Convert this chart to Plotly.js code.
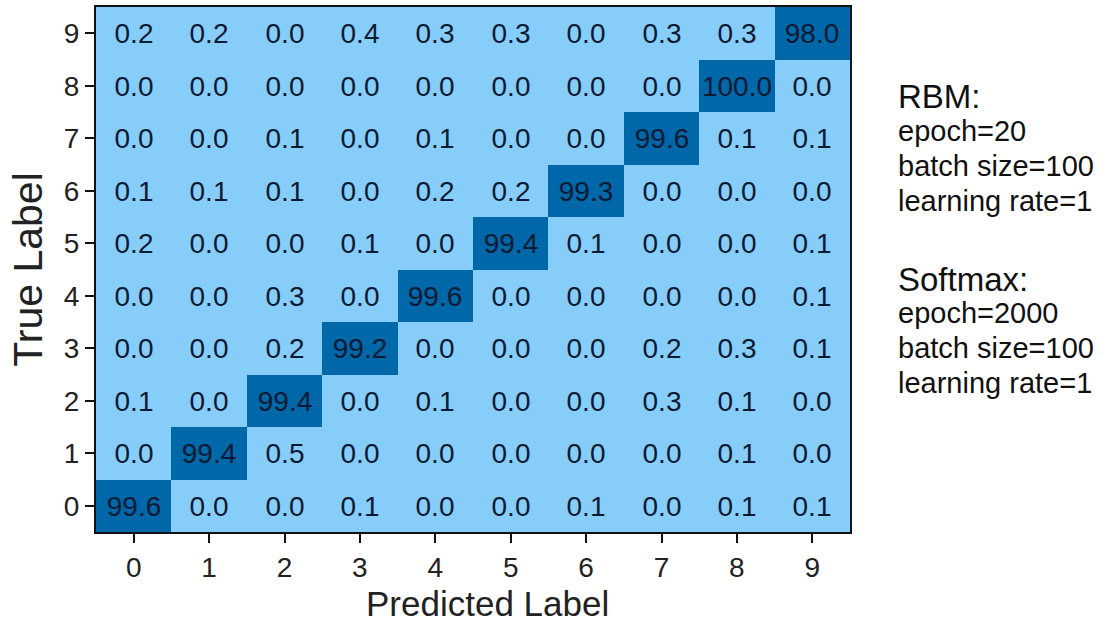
<!DOCTYPE html>
<html><head><meta charset="utf-8">
<script src="https://cdn.plot.ly/plotly-3.0.1.min.js"></script>
<style>body{margin:0;background:#fff}#c{width:1106px;height:625px}</style>
</head><body><div id="c"></div>
<script>
const predictedLabels = ['0','1','2','3','4','5','6','7','8','9'];
const trueLabels = ['0','1','2','3','4','5','6','7','8','9'];
// rows = true label 0..9, columns = predicted label 0..9 (percent)
const row0 = [99.6, 0.0, 0.0, 0.1, 0.0, 0.0, 0.1, 0.0, 0.1, 0.1];
const row1 = [0.0, 99.4, 0.5, 0.0, 0.0, 0.0, 0.0, 0.0, 0.1, 0.0];
const row2 = [0.1, 0.0, 99.4, 0.0, 0.1, 0.0, 0.0, 0.3, 0.1, 0.0];
const row3 = [0.0, 0.0, 0.2, 99.2, 0.0, 0.0, 0.0, 0.2, 0.3, 0.1];
const row4 = [0.0, 0.0, 0.3, 0.0, 99.6, 0.0, 0.0, 0.0, 0.0, 0.1];
const row5 = [0.2, 0.0, 0.0, 0.1, 0.0, 99.4, 0.1, 0.0, 0.0, 0.1];
const row6 = [0.1, 0.1, 0.1, 0.0, 0.2, 0.2, 99.3, 0.0, 0.0, 0.0];
const row7 = [0.0, 0.0, 0.1, 0.0, 0.1, 0.0, 0.0, 99.6, 0.1, 0.1];
const row8 = [0.0, 0.0, 0.0, 0.0, 0.0, 0.0, 0.0, 0.0, 100.0, 0.0];
const row9 = [0.2, 0.2, 0.0, 0.4, 0.3, 0.3, 0.0, 0.3, 0.3, 98.0];
const matrix = [row0,row1,row2,row3,row4,row5,row6,row7,row8,row9];
const noteLines = ['RBM:', 'epoch=20', 'batch size=100', 'learning rate=1', '', 'Softmax:', 'epoch=2000', 'batch size=100', 'learning rate=1'];

const FONT = 'Arial, "Liberation Sans", sans-serif';
const LIGHT = '#87cdf9', DARK = '#0067a8';

const trace = {
  type: 'heatmap',
  x: predictedLabels, y: trueLabels, z: matrix,
  zmin: 0, zmax: 100,
  colorscale: [[0, LIGHT], [0.5, LIGHT], [0.5, DARK], [1, DARK]],
  showscale: false,
  texttemplate: '%{z:.1f}',
  textfont: {family: FONT, size: 28, color: '#0b1a33'},
  hoverinfo: 'skip'
};

const W = 1106, H = 625;
const m = {l: 96, r: 256, t: 7, b: 93};
const PW = W - m.l - m.r, PH = H - m.t - m.b;
const annotations = [];
const noteY = [96, 131, 166, 201, null, 279, 313, 348, 383];
noteLines.forEach((t, i) => {
  if (!t) return;
  const big = (t === 'RBM:' || t === 'Softmax:');
  annotations.push({
    text: t, xref: 'paper', yref: 'paper',
    x: (896 - m.l) / PW,
    y: 1 - (noteY[i] - m.t) / PH,
    xanchor: 'left', yanchor: 'middle', showarrow: false,
    font: {family: FONT, size: big ? 33 : 29, color: '#111'}
  });
});
// x-axis title placed as annotation (slightly right of plot centre, as in the reference)
annotations.push({
  text: 'Predicted Label', xref: 'paper', yref: 'paper',
  x: (487 - m.l) / PW, y: 1 - (603 - m.t) / PH,
  xanchor: 'center', yanchor: 'middle', showarrow: false,
  font: {family: FONT, size: 35, color: '#222'}
});

const layout = {
  width: W, height: H, margin: m,
  paper_bgcolor: '#fff', plot_bgcolor: '#fff',
  font: {family: FONT, color: '#111'},
  xaxis: {
    type: 'category', showgrid: false, zeroline: false,
    ticks: 'outside', ticklen: 9, tickwidth: 2, tickcolor: '#111',
    tickfont: {family: FONT, size: 28, color: '#222'},
    showline: true, linecolor: '#111', linewidth: 2, mirror: true
  },
  yaxis: {
    type: 'category', showgrid: false, zeroline: false,
    ticks: 'outside', ticklen: 9, tickwidth: 2, tickcolor: '#111',
    tickfont: {family: FONT, size: 28, color: '#222'},
    showline: true, linecolor: '#111', linewidth: 2, mirror: true,
    title: {text: 'True Label', font: {family: FONT, size: 41, color: '#222'}, standoff: 8}
  },
  annotations: annotations
};

Plotly.newPlot('c', [trace], layout, {displayModeBar: false, staticPlot: true});
</script></body></html>
